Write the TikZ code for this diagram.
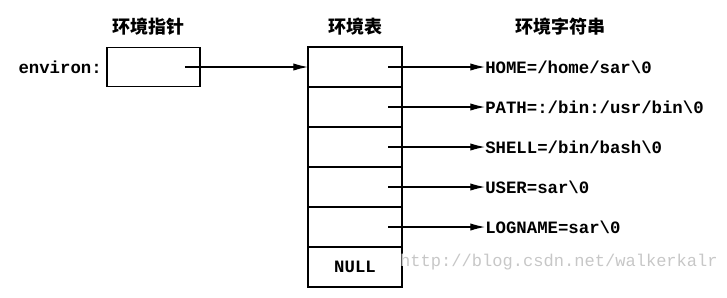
\documentclass[tikz,border=0pt]{standalone}
\usepackage{fontspec}
\setmonofont{Liberation Mono}
\newfontfamily\cjk{Noto Sans CJK SC}
\usetikzlibrary{arrows.meta,positioning}
\tikzset{
 cell/.style={draw,line width=0.8pt,minimum width=70.5pt,minimum height=30pt,
             inner sep=0pt,outer sep=0pt,font=\fontsize{13}{15}\ttfamily\bfseries},
 ptrbox/.style={draw,line width=0.8pt,minimum width=69.75pt,minimum height=29.25pt,
             inner sep=0pt},
 title/.style={font=\fontsize{13.5}{16}\cjk\bfseries},
 str/.style={anchor=west,inner sep=0pt,font=\fontsize{13}{15}\ttfamily\bfseries},
 watermark/.style={anchor=east,inner sep=0pt,text=black!22,font=\fontsize{12.8}{15}\ttfamily},
 arrow/.style={-{Latex[length=11pt,width=5.5pt]},line width=0.8pt}
}
\begin{document}
\begin{tikzpicture}[x=0.75pt,y=-0.75pt]
\useasboundingbox (0,0) rectangle (727,297);
\node[title] (ptrtitle) at (148,27) {环境指针};
\node[title] (tabtitle) at (355,27) {环境表};
\node[title] (strtitle) at (560,27) {环境字符串};
\node[ptrbox] (ptr) at (153.5,67) {};
\node[str,anchor=east] (envlabel) at (102,67) {environ:};
\node[cell] (e0) at (355,67) {};
\node[cell,below=0pt of e0] (e1) {};
\node[cell,below=0pt of e1] (e2) {};
\node[cell,below=0pt of e2] (e3) {};
\node[cell,below=0pt of e3] (e4) {};
\node[cell,below=0pt of e4] (null) {NULL};
\node[str] (s0) at (485,67) {HOME=/home/sar\textbackslash 0};
\node[str] (s1) at (485,107) {PATH=:/bin:/usr/bin\textbackslash 0};
\node[str] (s2) at (485,147) {SHELL=/bin/bash\textbackslash 0};
\node[str] (s3) at (485,187) {USER=sar\textbackslash 0};
\node[str] (s4) at (485,227) {LOGNAME=sar\textbackslash 0};
\node[watermark] (wm) at (718,262) {http://blog.csdn.net/walkerkalr};
\draw[arrow] ([xshift=23.6pt]ptr.center) -- (e0.west);
\draw[arrow] ([xshift=24.75pt]e0.center) -- (s0.west);
\draw[arrow] ([xshift=24.75pt]e1.center) -- (s1.west);
\draw[arrow] ([xshift=24.75pt]e2.center) -- (s2.west);
\draw[arrow] ([xshift=24.75pt]e3.center) -- (s3.west);
\draw[arrow] ([xshift=24.75pt]e4.center) -- (s4.west);
\end{tikzpicture}
\end{document}
